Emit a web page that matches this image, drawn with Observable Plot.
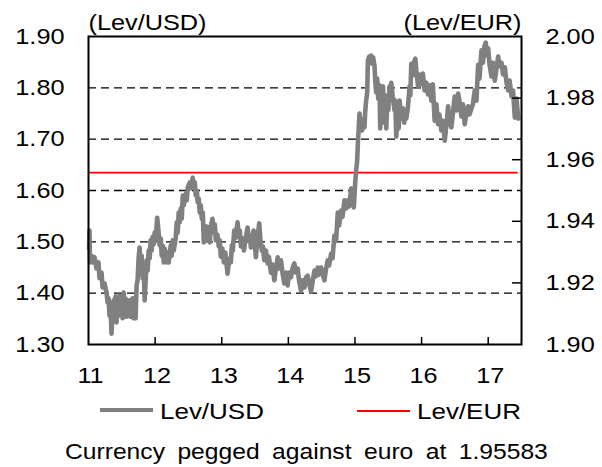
<!DOCTYPE html>
<html><head><meta charset="utf-8">
<script src="https://cdn.jsdelivr.net/npm/d3@7"></script>
<script src="https://cdn.jsdelivr.net/npm/@observablehq/plot@0.6"></script>
<style>
html,body{margin:0;padding:0;background:#fff;}
#wrap{position:relative;width:602px;height:467px;overflow:hidden;font-family:"Liberation Sans",Arial,sans-serif;color:#000;}
#wrap svg{position:absolute;left:0;top:0;}
.lt{position:absolute;font-size:22px;line-height:22px;white-space:nowrap;transform-origin:0 50%;}
.sw{position:absolute;}
</style></head><body><div id="wrap"></div>
<script>
// ---- data ----
const usdYear = [11.008,11.015,11.023,11.045,11.060,11.090,11.120,11.150,11.166,11.196,11.211,11.241,11.271,11.286,11.301,11.316,11.331,11.346,11.361,11.376,11.391,11.406,11.421,11.436,11.451,11.467,11.482,11.497,11.512,11.527,11.542,11.557,11.572,11.587,11.602,11.617,11.632,11.647,11.662,11.677,11.692,11.707,11.722,11.737,11.752,11.767,11.783,11.798,11.813,11.828,11.843,11.858,11.873,11.888,11.903,11.918,11.933,11.948,11.963,11.978,11.993,12.008,12.031,12.053,12.068,12.084,12.099,12.114,12.129,12.144,12.174,12.189,12.204,12.234,12.249,12.264,12.279,12.309,12.324,12.339,12.354,12.369,12.385,12.400,12.415,12.430,12.460,12.475,12.490,12.520,12.535,12.565,12.580,12.595,12.610,12.625,12.640,12.655,12.670,12.685,12.701,12.716,12.731,12.746,12.761,12.776,12.791,12.806,12.821,12.836,12.861,12.881,12.896,12.911,12.934,12.956,12.971,12.986,13.009,13.032,13.054,13.087,13.107,13.122,13.137,13.152,13.167,13.187,13.205,13.238,13.257,13.272,13.287,13.310,13.333,13.355,13.388,13.408,13.423,13.438,13.461,13.479,13.498,13.513,13.536,13.563,13.581,13.603,13.619,13.638,13.664,13.689,13.709,13.739,13.761,13.789,13.814,13.840,13.859,13.889,13.912,13.939,13.965,13.990,14.010,14.040,14.062,14.090,14.115,14.141,14.160,14.190,14.213,14.240,14.266,14.291,14.311,14.341,14.363,14.391,14.416,14.442,14.461,14.491,14.514,14.541,14.567,14.592,14.612,14.642,14.664,14.691,14.717,14.742,14.762,14.792,14.814,14.842,14.868,14.893,14.913,14.943,14.965,14.983,15.003,15.018,15.033,15.044,15.056,15.068,15.078,15.093,15.108,15.123,15.143,15.153,15.168,15.184,15.194,15.214,15.229,15.244,15.259,15.274,15.294,15.304,15.319,15.334,15.349,15.369,15.379,15.394,15.409,15.420,15.440,15.455,15.470,15.485,15.500,15.519,15.530,15.545,15.567,15.594,15.605,15.620,15.643,15.658,15.670,15.695,15.721,15.740,15.755,15.770,15.793,15.820,15.831,15.846,15.868,15.883,15.906,15.921,15.947,15.966,15.996,16.019,16.046,16.072,16.097,16.117,16.147,16.169,16.196,16.222,16.248,16.267,16.297,16.320,16.347,16.373,16.398,16.418,16.448,16.470,16.497,16.523,16.549,16.568,16.598,16.621,16.648,16.673,16.699,16.719,16.749,16.771,16.798,16.824,16.849,16.869,16.899,16.921,16.944,16.964,16.982,17.000,17.020,17.050,17.072,17.099,17.125,17.150,17.170,17.200,17.223,17.250,17.275,17.301,17.321,17.351,17.373,17.400,17.425,17.451];
const usdRate = [1.487,1.522,1.460,1.473,1.460,1.470,1.448,1.460,1.429,1.440,1.411,1.419,1.401,1.382,1.390,1.356,1.370,1.321,1.366,1.386,1.351,1.394,1.343,1.386,1.356,1.395,1.362,1.386,1.351,1.401,1.366,1.390,1.354,1.382,1.358,1.386,1.354,1.376,1.390,1.351,1.376,1.351,1.415,1.425,1.468,1.489,1.444,1.473,1.429,1.448,1.386,1.425,1.464,1.444,1.483,1.468,1.503,1.483,1.510,1.495,1.518,1.503,1.547,1.518,1.493,1.507,1.473,1.493,1.460,1.487,1.460,1.479,1.460,1.493,1.473,1.503,1.483,1.507,1.538,1.518,1.557,1.538,1.565,1.545,1.590,1.571,1.594,1.581,1.606,1.616,1.604,1.625,1.608,1.616,1.590,1.600,1.577,1.584,1.557,1.571,1.545,1.557,1.499,1.526,1.510,1.530,1.503,1.518,1.499,1.530,1.545,1.518,1.534,1.503,1.514,1.491,1.503,1.471,1.487,1.460,1.479,1.438,1.460,1.468,1.460,1.493,1.483,1.522,1.507,1.538,1.510,1.522,1.491,1.507,1.483,1.503,1.528,1.503,1.512,1.489,1.510,1.522,1.493,1.470,1.507,1.536,1.503,1.483,1.491,1.464,1.483,1.458,1.471,1.440,1.456,1.425,1.448,1.470,1.448,1.464,1.440,1.419,1.440,1.415,1.440,1.431,1.448,1.458,1.440,1.448,1.425,1.405,1.425,1.411,1.431,1.434,1.419,1.403,1.421,1.444,1.433,1.450,1.436,1.450,1.438,1.425,1.448,1.464,1.454,1.477,1.468,1.512,1.503,1.557,1.532,1.561,1.549,1.581,1.565,1.581,1.569,1.604,1.590,1.567,1.614,1.639,1.658,1.692,1.721,1.750,1.727,1.740,1.717,1.736,1.723,1.752,1.775,1.791,1.853,1.861,1.849,1.863,1.847,1.859,1.842,1.814,1.791,1.818,1.779,1.805,1.721,1.766,1.732,1.803,1.746,1.785,1.721,1.775,1.756,1.803,1.783,1.810,1.783,1.756,1.775,1.705,1.752,1.721,1.775,1.740,1.760,1.732,1.756,1.740,1.760,1.803,1.785,1.847,1.824,1.849,1.857,1.834,1.803,1.826,1.807,1.828,1.795,1.810,1.787,1.805,1.775,1.807,1.736,1.768,1.729,1.748,1.717,1.736,1.697,1.727,1.764,1.736,1.723,1.750,1.783,1.756,1.789,1.775,1.744,1.768,1.729,1.752,1.764,1.748,1.760,1.768,1.795,1.775,1.845,1.818,1.873,1.849,1.881,1.888,1.863,1.877,1.845,1.822,1.849,1.814,1.838,1.861,1.842,1.849,1.826,1.840,1.810,1.795,1.814,1.783,1.795,1.742,1.779,1.740];
const eurPeg = 1.95583;
const usdTicks = [1.30, 1.40, 1.50, 1.60, 1.70, 1.80, 1.90];
const eurTicks = [1.90, 1.92, 1.94, 1.96, 1.98, 2.00];
const yearTicks = [11, 12, 13, 14, 15, 16, 17];
const axisTitles = ["(Lev/USD)", "(Lev/EUR)"];
const seriesNames = ["Lev/USD", "Lev/EUR"];
const captionText = "Currency pegged against euro at 1.95583";

// ---- chart ----
const usdDomain = [1.30, 1.90];
const eurDomain = [1.90, 2.00];
const eurToUsd = d3.scaleLinear().domain(eurDomain).range(usdDomain);
const series = usdYear.map((x, i) => ({x, y: usdRate[i]}));
const FONT = "'Liberation Sans', Arial, sans-serif";

const W = 602, H = 395, ML = 88, MR = 81, MT = 36, MB = 51;
const innerW = W - ML - MR, innerH = H - MT - MB;
const TICK_X = 7, TICK_Y = 9;

const chart = Plot.plot({
  width: W, height: H,
  marginLeft: ML, marginRight: MR, marginTop: MT, marginBottom: MB,
  style: {fontFamily: FONT, fontSize: "22px", color: "#000", background: "#fff"},
  x: {domain: [11, 17.5]},
  y: {domain: usdDomain},
  marks: [
    Plot.gridY(usdTicks.slice(1, -1), {stroke: "#000", strokeOpacity: 1, strokeWidth: 1.4, strokeDasharray: "8,5"}),
    Plot.ruleY([eurToUsd(eurPeg)], {x1: usdYear[0], x2: usdYear[usdYear.length - 1], stroke: "#ff0000", strokeWidth: 1.8}),
    Plot.line(series, {x: "x", y: "y", stroke: "#808080", strokeWidth: 4.6, strokeLinejoin: "round", strokeLinecap: "round"}),
    // inward tick marks: bottom (years) and right (EUR)
    Plot.ruleX(yearTicks.slice(1), {x: d => d, stroke: "#000", strokeWidth: 1.5, insetTop: innerH - TICK_X}),
    Plot.ruleY(eurTicks.slice(1, -1), {y: d => eurToUsd(d), stroke: "#000", strokeWidth: 1.5, insetLeft: innerW - TICK_Y}),
    Plot.frame({stroke: "#000", strokeWidth: 2}),
    Plot.axisY(usdTicks, {anchor: "left", tickSize: 0, tickPadding: 24, tickFormat: d => d.toFixed(2), label: null}),
    Plot.axisY(eurTicks.map(v => eurToUsd(v)), {anchor: "right", tickSize: 0, tickPadding: 24, tickFormat: d => eurToUsd.invert(d).toFixed(2), label: null}),
    Plot.axisX(yearTicks, {anchor: "bottom", tickSize: 0, tickPadding: 23, dx: 2, tickFormat: d => String(d), label: null}),
    Plot.text([axisTitles[0]], {frameAnchor: "top-left", textAnchor: "start", lineAnchor: "middle", dy: -14, text: d => d}),
    Plot.text([axisTitles[1]], {frameAnchor: "top-right", textAnchor: "end", lineAnchor: "middle", dy: -14, text: d => d})
  ]
});

// widen text slightly, as in the reference rendering
chart.querySelectorAll("text").forEach(t => {
  const tr = t.getAttribute("transform") || "";
  t.setAttribute("transform", (tr + " scale(1.15,1)").trim());
});

const wrap = document.getElementById("wrap");
wrap.appendChild(chart);

// ---- legend + caption (HTML, below the SVG) ----
function addSwatch(left, top, w, h, color) {
  const d = document.createElement("div");
  d.className = "sw";
  Object.assign(d.style, {left: left + "px", top: top + "px", width: w + "px", height: h + "px", background: color});
  wrap.appendChild(d);
}
function addText(left, top, txt, sx, extra) {
  const s = document.createElement("div");
  s.className = "lt";
  s.textContent = txt;
  Object.assign(s.style, {left: left + "px", top: top + "px", transform: `scaleX(${sx})`}, extra || {});
  wrap.appendChild(s);
}
addSwatch(100, 408, 53, 4, "#808080");
addText(160, 401, seriesNames[0], 1.18);
addSwatch(357, 410, 53, 2, "#ff0000");
addText(417, 401, seriesNames[1], 1.18);
addText(65, 441, captionText, 1.12, {wordSpacing: "5px"});
</script>
</body></html>
